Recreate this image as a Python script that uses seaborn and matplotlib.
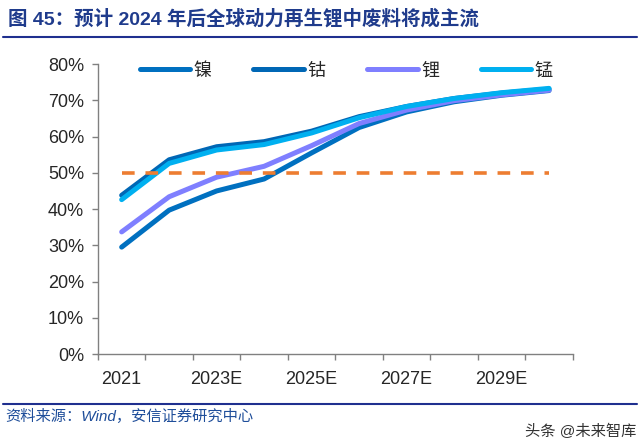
import numpy as np
import pandas as pd
import seaborn as sns
import matplotlib.pyplot as plt
from matplotlib.ticker import FixedLocator

years = ['2021', '2022E', '2023E', '2024E', '2025E', '2026E', '2027E', '2028E', '2029E', '2030E']
tick_labels = ['2021', '', '2023E', '', '2025E', '', '2027E', '', '2029E', '']

nickel = [29.5, 39.7, 45.0, 48.3, 55.5, 62.5, 66.8, 69.6, 71.4, 72.7]
cobalt = [43.8, 53.6, 57.2, 58.6, 61.5, 65.5, 68.3, 70.5, 72.0, 73.1]
lithium = [33.7, 43.4, 48.8, 51.8, 57.5, 63.6, 67.3, 69.9, 71.5, 72.8]
manganese = [42.6, 52.6, 56.3, 57.8, 61.0, 65.2, 68.3, 70.5, 72.1, 73.3]
threshold = 50

names = ['镍', '钴', '锂', '锰']
colors = ['#0070C0', '#0067B5', '#7F7FFF', '#00B0F0']
series = [nickel, cobalt, lithium, manganese]

sns.set_style('ticks')
plt.rcParams['font.family'] = ['Liberation Sans', 'Noto Sans CJK SC']
plt.rcParams['axes.unicode_minus'] = False

fig = plt.figure(figsize=(6.4, 4.42), dpi=100)
ax = fig.add_axes([0.153, 0.199, 0.742, 0.656])

x = np.arange(len(years))
for name, vals, c in zip(names, series, colors):
    sns.lineplot(x=x, y=np.array(vals) / 100, ax=ax, color=c, linewidth=3.6,
                 label=name, solid_capstyle='round')

sns.lineplot(x=x, y=np.full(len(years), threshold / 100), ax=ax, color='#ED7D31',
             linewidth=2.6, dashes=False, zorder=5)
ax.lines[-1].set_linestyle((0, (3.5, 3.0)))

ax.set_xlim(-0.5, len(years) - 0.5)
ax.set_ylim(0, 0.8)
ax.set_yticks(np.arange(0, 0.81, 0.1))
ax.set_yticklabels([f'{int(round(v * 100))}%' for v in np.arange(0, 0.81, 0.1)])
ax.set_xticks(x)
ax.set_xticklabels(tick_labels)
ax.xaxis.set_minor_locator(FixedLocator(np.arange(-0.5, len(years), 1.0)))
ax.tick_params(axis='x', which='major', length=0, pad=12, labelsize=13)
ax.tick_params(axis='x', which='minor', length=4, color='#808080', width=1)
ax.tick_params(axis='y', length=4, color='#808080', width=1, labelsize=13, pad=6)
ax.set_xlabel('')
ax.set_ylabel('')
for s in ['top', 'right']:
    ax.spines[s].set_visible(False)
for s in ['left', 'bottom']:
    ax.spines[s].set_color('#808080')
    ax.spines[s].set_linewidth(1)

ax.legend(loc='center', bbox_to_anchor=(0.541, 0.839), bbox_transform=fig.transFigure,
          ncol=4, frameon=False, fontsize=13, handlelength=2.8, handletextpad=0.2,
          columnspacing=2.3)

fig.text(0.012, 0.958, '图 45：预计 2024 年后全球动力再生锂中废料将成主流', fontsize=14,
         fontweight='bold', color='#1F3B8C', va='center', ha='left')
fig.add_artist(plt.Line2D([0.005, 0.995], [0.916, 0.916], color='#1F2F8F', linewidth=1.5,
                          transform=fig.transFigure))
fig.add_artist(plt.Line2D([0.005, 0.995], [0.086, 0.086], color='#1F2F8F', linewidth=1.5,
                          transform=fig.transFigure))
fig.text(0.008, 0.058, '资料来源：Wind，安信证券研究中心', fontsize=11, style='italic',
         color='#1F4E9A', va='center', ha='left')
fig.text(0.995, 0.025, '头条 @未来智库', fontsize=11, color='#333333', va='center', ha='right')

fig.savefig('out.png', dpi=100)
